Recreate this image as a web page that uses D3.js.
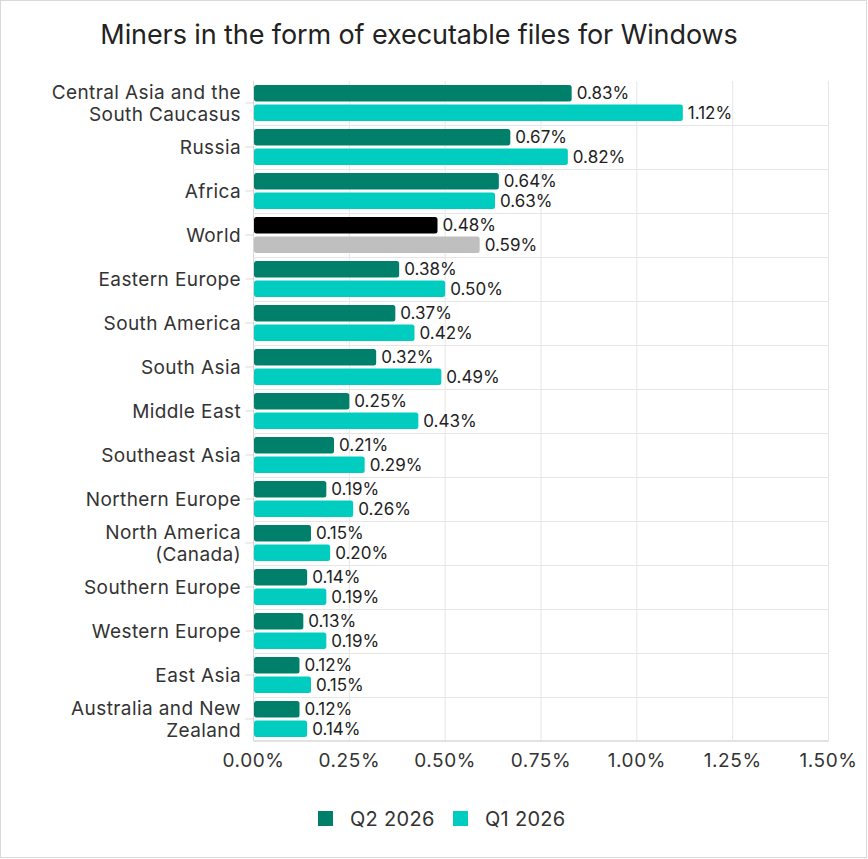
<!DOCTYPE html>
<html><head><meta charset="utf-8">
<script src="https://cdn.jsdelivr.net/npm/d3@7"></script>
<style>
body{margin:0;background:#fff;}
svg text{font-family:Inter, "Noto Sans", sans-serif;}
</style></head>
<body><svg id="c" width="868" height="859"></svg>
<script>
const categories = [
  ["Central Asia and the","South Caucasus"],
  ["Russia"],["Africa"],["World"],["Eastern Europe"],["South America"],["South Asia"],
  ["Middle East"],["Southeast Asia"],["Northern Europe"],["North America","(Canada)"],
  ["Southern Europe"],["Western Europe"],["East Asia"],["Australia and New","Zealand"]
];
const q2_2026 = [0.83,0.67,0.64,0.48,0.38,0.37,0.32,0.25,0.21,0.19,0.15,0.14,0.13,0.12,0.12];
const q1_2026 = [1.12,0.82,0.63,0.59,0.50,0.42,0.49,0.43,0.29,0.26,0.20,0.19,0.19,0.15,0.14];
const xTicks = [0,0.25,0.5,0.75,1.0,1.25,1.5];
const seriesNames = ["Q2 2026","Q1 2026"];
const title = "Miners in the form of executable files for Windows";

const colors = {q2:"#00806b", q1:"#00ccc0", worldQ2:"#000000", worldQ1:"#bfbfbf"};
const svg = d3.select("#c");
const W=868,H=859;
svg.append("rect").attr("x",0.5).attr("y",0.5).attr("width",W-2).attr("height",H-2).attr("fill","#fff").attr("stroke","#d9d9d9");

const m={left:253.5,right:828.5,top:81,bottom:741};
const x=d3.scaleLinear().domain([0,1.5]).range([m.left,m.right]);
const keys=categories.map((d,i)=>i);
const y=d3.scaleBand().domain(keys).range([m.top,m.bottom]);

svg.append("text").attr("x",419).attr("y",44).attr("text-anchor","middle")
  .attr("font-size",27).attr("fill","#222").attr("letter-spacing",-0.1).text(title);

const g=svg.append("g");
g.selectAll(".vg").data(xTicks).join("line")
  .attr("x1",d=>x(d)).attr("x2",d=>x(d)).attr("y1",m.top).attr("y2",m.bottom)
  .attr("stroke","#e6e6e6");
g.selectAll(".hg").data(keys.slice(1)).join("line")
  .attr("x1",m.left).attr("x2",m.right).attr("y1",d=>Math.round(y(d))+0.5).attr("y2",d=>Math.round(y(d))+0.5)
  .attr("stroke","#e6e6e6");
g.append("line").attr("x1",m.left).attr("x2",m.left).attr("y1",m.top).attr("y2",m.bottom).attr("stroke","#d9d9d9");
g.selectAll(".yt").data(keys).join("line")
  .attr("x1",m.left-8).attr("x2",m.left).attr("y1",d=>y(d)+y.bandwidth()/2).attr("y2",d=>y(d)+y.bandwidth()/2)
  .attr("stroke","#d9d9d9");
g.append("line").attr("x1",m.left).attr("x2",m.right).attr("y1",m.bottom).attr("y2",m.bottom).attr("stroke","#d9d9d9").attr("stroke-width",1.5);

const bh=16.5, gap=3;
function barG(vals,off,cq,cw){
  g.selectAll(null).data(vals).join("rect")
   .attr("x",m.left+0.5).attr("y",(d,i)=>y(i)+off)
   .attr("width",d=>x(d)-m.left-0.5).attr("height",bh).attr("rx",2.5)
   .attr("fill",(d,i)=>i===3?cw:cq);
  g.selectAll(null).data(vals).join("text")
   .attr("x",d=>x(d)+5).attr("y",(d,i)=>y(i)+off+bh/2).attr("dy","0.35em")
   .attr("font-size",17).attr("fill","#222").attr("letter-spacing",0)
   .text(d=>d.toFixed(2)+"%");
}
barG(q2_2026,gap+1,colors.q2,colors.worldQ2);
barG(q1_2026,gap+1+bh+gap,colors.q1,colors.worldQ1);

categories.forEach((lines,i)=>{
  const cy=y(i)+y.bandwidth()/2;
  const t=svg.append("text").attr("text-anchor","end").attr("font-size",19).attr("fill","#333").attr("letter-spacing",0.4);
  lines.forEach((l,j)=>{
    t.append("tspan").attr("x",241).attr("y",cy+(j-(lines.length-1)/2)*22).attr("dy","0.35em").text(l);
  });
});

svg.selectAll(".xl").data(xTicks).join("text")
  .attr("x",d=>x(d)).attr("y",760).attr("dy","0.35em").attr("text-anchor","middle")
  .attr("font-size",19).attr("fill","#333").attr("letter-spacing",0.6).text(d=>d.toFixed(2)+"%");

const leg=[{n:seriesNames[0],c:colors.q2,x:318},{n:seriesNames[1],c:colors.q1,x:453}];
leg.forEach(l=>{
  svg.append("rect").attr("x",l.x).attr("y",811).attr("width",15).attr("height",15).attr("fill",l.c);
  svg.append("text").attr("x",l.x+32).attr("y",818.5).attr("dy","0.35em").attr("font-size",20).attr("fill","#333").attr("letter-spacing",0.3).text(l.n);
});
</script></body></html>
